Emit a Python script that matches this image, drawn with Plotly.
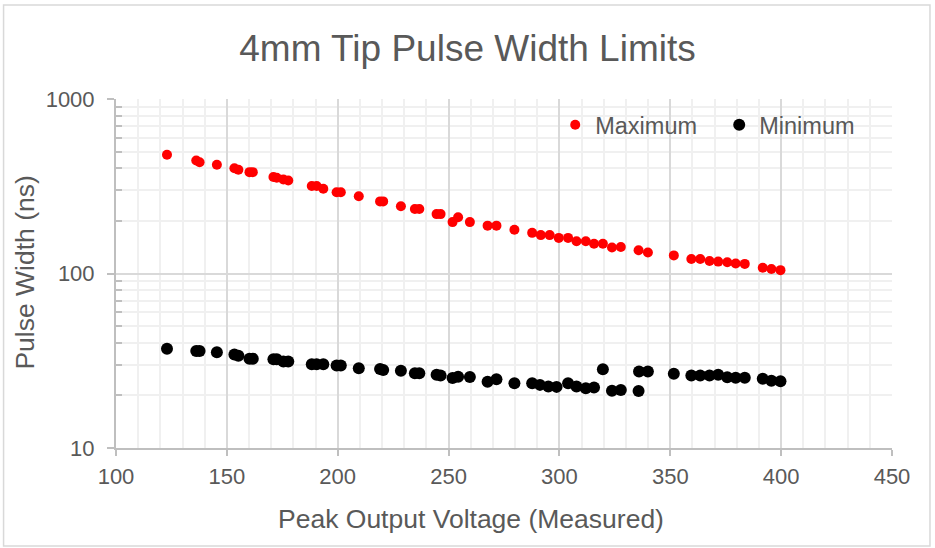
import plotly.graph_objects as go

# Peak output voltage (measured)
max_x = [123.0, 136.2, 137.7, 145.5, 153.4, 155.2, 160.2, 161.7, 171.0, 172.5,
         175.5, 177.7, 188.3, 190.5, 193.5, 199.5, 201.4, 209.5, 219.1, 220.5,
         228.5, 234.8, 236.8, 244.6, 246.4, 251.8, 254.3, 259.6, 267.6, 271.6,
         279.7, 287.7, 291.6, 295.6, 299.7, 303.9, 307.7, 311.9, 315.6, 319.6,
         323.7, 327.7, 335.7, 339.9, 351.6, 359.5, 363.5, 367.7, 371.6, 375.7,
         379.5, 383.6, 391.7, 395.6, 399.7]
max_y = [479, 444, 434, 420, 401, 393, 381, 381, 357, 354,
         346, 341, 317, 317, 306, 292, 292, 277, 259, 259,
         243, 234, 234, 219, 219, 197, 210, 197, 188, 188,
         178, 171, 166, 166, 160, 160, 153, 153, 148, 148,
         141, 142, 136, 132, 127, 121, 121, 118, 117, 116,
         114, 113.5, 108, 106, 104.5]

min_x = [123.0, 136.2, 137.7, 145.5, 153.4, 155.2, 160.2, 161.7, 171.0, 172.5,
         175.5, 177.7, 188.3, 190.5, 193.5, 199.5, 201.4, 209.5, 219.1, 220.5,
         228.5, 234.8, 236.8, 244.6, 246.4, 251.8, 254.3, 259.6, 267.6, 271.6,
         279.7, 287.7, 291.2, 295.0, 298.7, 303.9, 307.7, 311.9, 315.6, 319.6,
         323.7, 327.7, 335.7, 335.9, 339.9, 351.6, 359.5, 363.5, 367.7, 371.6,
         375.7, 379.5, 383.6, 391.7, 395.6, 399.7]
min_y = [37.1, 36.0, 36.0, 35.4, 34.3, 33.8, 32.5, 32.5, 32.3, 32.3,
         31.3, 31.3, 30.2, 30.2, 30.2, 29.7, 29.7, 28.6, 28.4, 28.0,
         27.7, 26.8, 26.8, 26.3, 26.0, 25.2, 25.6, 25.5, 24.0, 24.8,
         23.5, 23.5, 23.0, 22.5, 22.4, 23.5, 22.5, 22.0, 22.2, 28.3,
         21.3, 21.5, 21.2, 27.4, 27.4, 26.6, 26.0, 26.0, 26.0, 26.3,
         25.4, 25.3, 25.3, 24.9, 24.3, 24.1]

x_ticks = [100, 150, 200, 250, 300, 350, 400, 450]
y_ticks = [10, 100, 1000]
y_minor = [m * d for d in (10, 100) for m in range(2, 10)]

TXT = "#595959"
FONT = "Liberation Sans, Arial, sans-serif"

W, H = 935, 548
L, R, T, B = 115.5, 43, 99, 100
PW, PH = W - L - R, H - T - B

fig = go.Figure()
fig.add_trace(go.Scatter(x=max_x, y=max_y, mode="markers", name="Maximum",
                         marker=dict(color="#FF0000", size=10, line=dict(width=0))))
fig.add_trace(go.Scatter(x=min_x, y=min_y, mode="markers", name="Minimum",
                         marker=dict(color="#000000", size=12, line=dict(width=0))))

fig.update_layout(
    width=W, height=H,
    margin=dict(l=L, r=R, t=T, b=B, autoexpand=False),
    paper_bgcolor="white", plot_bgcolor="white",
    font=dict(family=FONT, color=TXT, size=22),
    title=dict(text="4mm Tip Pulse Width Limits", x=0.5, xanchor="center",
               y=1 - 48 / H, yanchor="middle", yref="container",
               font=dict(size=37, color=TXT)),
    legend=dict(orientation="h", x=(555 - L) / PW, xanchor="left",
                y=(448 - 125) / PH, yanchor="middle",
                font=dict(size=23.5, color=TXT), bgcolor="rgba(0,0,0,0)",
                entrywidth=119, entrywidthmode="pixels"),
    xaxis=dict(range=[100, 450], tickvals=x_ticks, ticks="outside", ticklen=6,
               tickcolor="#bfbfbf", tickwidth=1.5, showline=True, linecolor="#bfbfbf",
               linewidth=2, showgrid=True, gridcolor="#d9d9d9", gridwidth=1.5,
               zeroline=False, ticklabelstandoff=2,
               minor=dict(dtick=10, showgrid=True, gridcolor="#f0f0f0", gridwidth=1.5),
               tickfont=dict(size=22, color=TXT)),
    yaxis=dict(type="log", range=[1, 3], tickvals=y_ticks, ticks="outside", ticklen=7,
               tickcolor="#bfbfbf", tickwidth=1.5, showline=True, linecolor="#bfbfbf",
               linewidth=2, showgrid=True, gridcolor="#d9d9d9", gridwidth=1.5,
               zeroline=False, ticklabelstandoff=8,
               minor=dict(tickvals=y_minor, showgrid=True, gridcolor="#f0f0f0",
                          gridwidth=1.5, ticks="inside", ticklen=6, tickcolor="#bfbfbf",
                          tickwidth=1.5),
               tickfont=dict(size=22, color=TXT)),
    showlegend=True,
    annotations=[
        dict(text="Peak Output Voltage (Measured)", xref="paper", yref="paper",
             x=(471 - L) / PW, y=(448 - 519) / PH, xanchor="center", yanchor="middle",
             showarrow=False, font=dict(size=26.5, color=TXT)),
        dict(text="Pulse Width (ns)", xref="paper", yref="paper", textangle=-90,
             x=(24 - L) / PW, y=(448 - 273) / PH, xanchor="center", yanchor="middle",
             showarrow=False, font=dict(size=26.5, color=TXT)),
    ],
)

# outer chart border
fig.add_shape(type="rect", xref="paper", yref="paper",
              x0=(3 - L) / PW, x1=(930 - L) / PW,
              y0=(448 - 546) / PH, y1=(448 - 5) / PH,
              line=dict(color="#d9d9d9", width=1.5), fillcolor="rgba(0,0,0,0)", layer="below")

fig.write_html("out.html", config={"displayModeBar": False},
               post_script="document.body.style.margin='0px';")
